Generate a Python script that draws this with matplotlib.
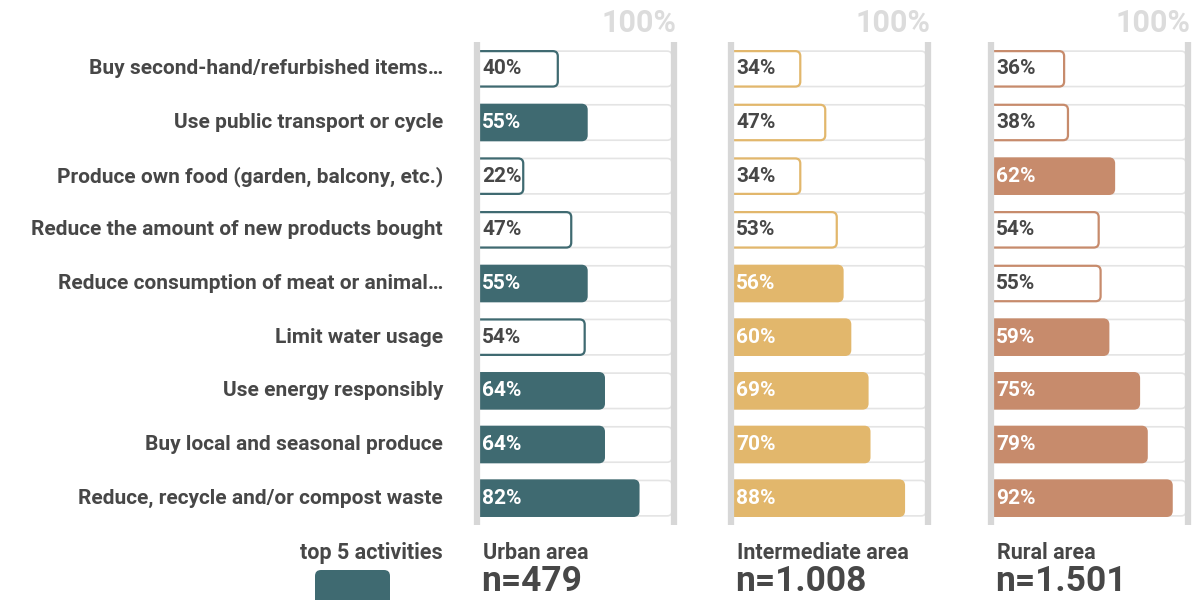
import matplotlib
matplotlib.use("Agg")
import matplotlib.pyplot as plt
from matplotlib.patches import FancyBboxPatch
from matplotlib.transforms import blended_transform_factory, IdentityTransform

plt.rcParams["font.family"] = ["Roboto", "DejaVu Sans"]

activities = [
    "Buy second-hand/refurbished items…",
    "Use public transport or cycle",
    "Produce own food (garden, balcony, etc.)",
    "Reduce the amount of new products bought",
    "Reduce consumption of meat or animal…",
    "Limit water usage",
    "Use energy responsibly",
    "Buy local and seasonal produce",
    "Reduce, recycle and/or compost waste",
]

area_names = ["Urban area", "Intermediate area", "Rural area"]
sample_sizes = ["n=479", "n=1.008", "n=1.501"]

urban = [40, 55, 22, 47, 55, 54, 64, 64, 82]
intermediate = [34, 47, 34, 53, 56, 60, 69, 70, 88]
rural = [36, 38, 62, 54, 55, 59, 75, 79, 92]

# which activities are in each area's top 5
urban_top5 = [False, True, False, False, True, False, True, True, True]
intermediate_top5 = [False, False, False, False, True, True, True, True, True]
rural_top5 = [False, False, True, False, False, True, True, True, True]

colors = ["#3f6a71", "#e2b76c", "#c78b6c"]

W, H = 1195, 600
TEXT = "#474747"
LINE = "#d7d7d7"
PX_PER_PCT = 1.92
ROW_PX = 53.6
zeros_px = [481, 735, 995]  # x pixel of 0% in each panel
top_px, bottom_px = 42, 525

fig = plt.figure(figsize=(W / 100, H / 100), dpi=100)
fig.patch.set_facecolor("white")

aspect = (1 / ROW_PX) / (1 / PX_PER_PCT)
r = 5 / PX_PER_PCT
bar_h = 0.66

series = [urban, intermediate, rural]
tops = [urban_top5, intermediate_top5, rural_top5]

axes = []
for k in range(3):
    x0 = zeros_px[k] - 5 * PX_PER_PCT
    ax = fig.add_axes([x0 / W, 1 - bottom_px / H, 110 * PX_PER_PCT / W, (bottom_px - top_px) / H])
    ax.set_xlim(-5, 105)
    ax.set_ylim(len(activities) - 0.5, -0.5)
    ax.axis("off")
    axes.append(ax)

    for i, (v, top) in enumerate(zip(series[k], tops[k])):
        # background track up to 100%
        track = FancyBboxPatch((-3, i - bar_h / 2), 102.5, bar_h,
                               boxstyle=f"round,pad=0,rounding_size={r}",
                               mutation_aspect=aspect, facecolor="white",
                               edgecolor="#e4e4e4", linewidth=1.2, zorder=1)
        ax.add_patch(track)
        bar = FancyBboxPatch((-3, i - bar_h / 2), v + 3, bar_h,
                             boxstyle=f"round,pad=0,rounding_size={r}",
                             mutation_aspect=aspect,
                             facecolor=colors[k] if top else "white",
                             edgecolor=colors[k], linewidth=1.6, zorder=2)
        ax.add_patch(bar)
        ax.text(0.6, i, f"{v}%", ha="left", va="center", fontsize=15,
                fontweight="bold", color="white" if top else TEXT, zorder=4)

    for xv in (-2, 100.6):
        ax.plot([xv, xv], [-0.5, len(activities) - 0.5], color=LINE,
                linewidth=4.5, solid_capstyle="butt", zorder=3, clip_on=False)

    ax.text(101.8, -0.5 - 19 / ROW_PX, "100%", ha="right", va="center",
            fontsize=22, fontweight="bold", color="#dcdcdc", clip_on=False)

    fig.text((zeros_px[k] + 2) / W, 1 - 559 / H, area_names[k], ha="left",
             va="baseline", fontsize=15.5, fontweight="bold", color=TEXT)
    fig.text(zeros_px[k] / W, 1 - 591 / H, sample_sizes[k], ha="left",
             va="baseline", fontsize=25.5, fontweight="bold", color=TEXT)

label_tr = blended_transform_factory(fig.transFigure, axes[0].transData)
for i, name in enumerate(activities):
    axes[0].text(443 / W, i, name, transform=label_tr, ha="right", va="center",
                 fontsize=15, fontweight="bold", color=TEXT, clip_on=False)

# legend
fig.text(371 / W, 1 - 559 / H, "top 5 activities", ha="center", va="baseline",
         fontsize=15.5, fontweight="bold", color=TEXT)
legend_box = FancyBboxPatch((315, -8), 75, 38,
                            boxstyle="round,pad=0,rounding_size=6",
                            transform=IdentityTransform(),
                            facecolor=colors[0], edgecolor="none")
fig.patches.append(legend_box)

fig.savefig("out.png", dpi=100, facecolor="white")
